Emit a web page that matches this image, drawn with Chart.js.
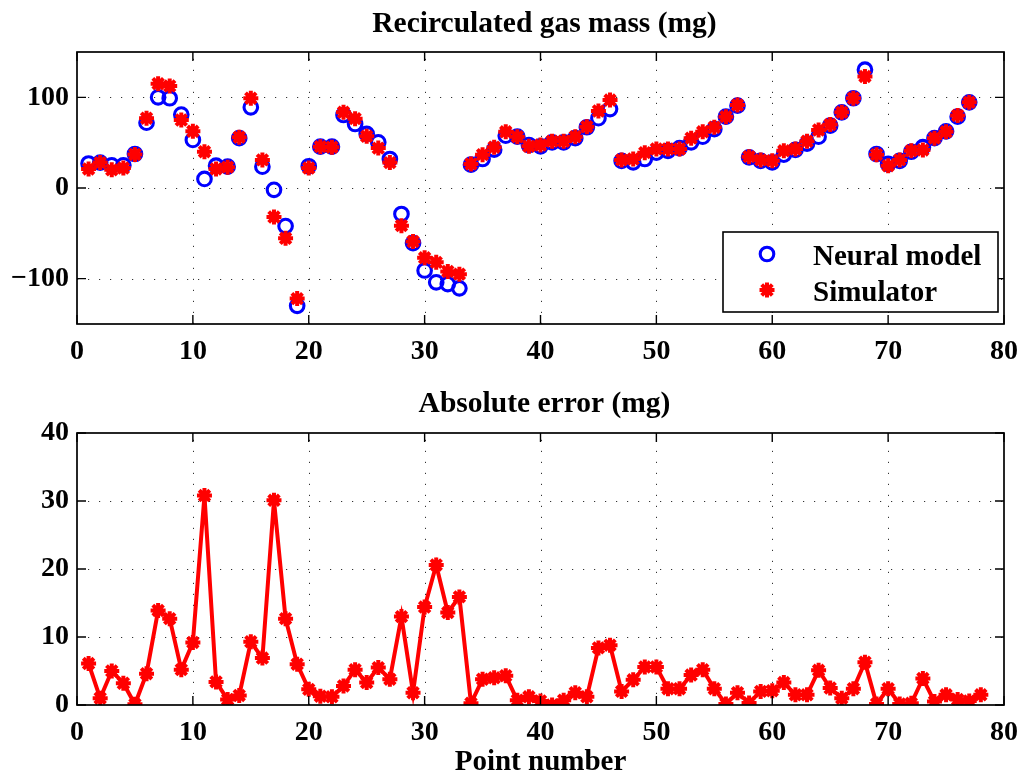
<!DOCTYPE html>
<html>
<head>
<meta charset="utf-8">
<script src="https://cdn.jsdelivr.net/npm/chart.js@4.4.1/dist/chart.umd.min.js"></script>
<style>
  html, body { margin: 0; padding: 0; background: #ffffff; }
  #wrap { position: relative; width: 1029px; height: 777px; background: #fff; }
  canvas { position: absolute; left: 0; }
  #c1 { top: 0; }
  #c2 { top: 370px; }
</style>
</head>
<body>
<div id="wrap">
  <canvas id="c1" width="1029" height="370"></canvas>
  <canvas id="c2" width="1029" height="407"></canvas>
</div>
<script>
// ---------------- data ----------------
const pointNumbers = [1,2,3,4,5,6,7,8,9,10,11,12,13,14,15,16,17,18,19,20,
  21,22,23,24,25,26,27,28,29,30,31,32,33,34,35,36,37,38,39,40,
  41,42,43,44,45,46,47,48,49,50,51,52,53,54,55,56,57,58,59,60,
  61,62,63,64,65,66,67,68,69,70,71,72,73,74,75,76,77,78];

const neuralModel = [27,28,25,25,37.5,72,100,99,81,53,
  10,24.6,23.5,55,89,23.5,-2,-42,-130,24,
  45.6,45.6,80.5,70.6,59.6,50.4,32,-28.7,-60.7,-91,
  -104,-106,-110.7,25.7,32,42.3,57.7,56.6,47.4,46,
  50.4,50.4,55,67,77,87,30,28.3,32,39,
  41,44,50.4,56.6,65,78.7,90.8,33.8,30,28.3,
  36.8,42,49,56.6,68.8,83.5,99,130.5,37.5,26.5,
  30,40,45,55,62.5,78.7,94.5];

const simulator = [21,28,20,22,37,77,115,112.5,75,62.5,
  40,21,23,56,99,31,-32,-55.5,-122,22,
  45.6,45,83.5,76.5,57,44,28,-41.5,-59,-77,
  -82,-92,-95,26.5,36.8,45,62,56.6,46,47.4,
  51.5,51.5,56.6,67.6,85,97,31,32,39,43,
  43,43,55,62,67,78.7,91.5,34.6,31,30,
  41,43,51.5,64,70,83.5,99,123,36.8,24.6,
  31,41,42,55,62,80,94.5];

const absoluteError = [6.1,1.0,5.0,3.2,0.1,4.6,13.9,12.7,5.2,9.2,
  30.8,3.4,0.8,1.4,9.3,6.9,30.1,12.7,6.0,2.3,
  1.3,1.2,2.8,5.2,3.3,5.5,3.8,13.0,1.8,14.4,
  20.6,13.6,15.9,0.25,3.8,4.0,4.3,0.7,1.2,0.6,
  0.0,0.7,1.8,1.2,8.4,8.8,2.0,3.7,5.6,5.6,
  2.4,2.4,4.4,5.2,2.4,0.15,1.8,0.3,2.0,2.1,
  3.3,1.5,1.5,5.1,2.5,1.0,2.4,6.3,0.15,2.4,
  0.15,0.25,3.9,0.5,1.5,0.8,0.6,1.5];

const xTickValues = [0,10,20,30,40,50,60,70,80];
const yTickValuesTop = [-100,0,100];
const yTickValuesBottom = [0,10,20,30,40];

const titleTop = 'Recirculated gas mass (mg)';
const titleBottom = 'Absolute error (mg)';
const xAxisLabel = 'Point number';
const seriesNames = ['Neural model', 'Simulator'];

// ---------------- styling helpers ----------------
const FONT = '"Liberation Serif", "Times New Roman", serif';
const BLUE = '#0000ff';
const RED = '#ff0000';

function toXY(values) {
  return values.map((v, i) => ({ x: pointNumbers[i], y: v }));
}
function minusFmt(v) {
  return v < 0 ? '\u2212' + Math.abs(v) : String(v);
}

// plugin: MATLAB-like dotted grid, box and inward ticks, title, legend
const matlabAxes = {
  id: 'matlabAxes',
  beforeDatasetsDraw(chart) {
    const { ctx, chartArea: a, scales } = chart;
    ctx.save();
    ctx.strokeStyle = '#333333';
    ctx.lineWidth = 1;
    ctx.setLineDash([1.2, 9.8]);
    scales.x.ticks.forEach(t => {
      const px = Math.round(scales.x.getPixelForValue(t.value)) + 0.5;
      if (px <= a.left + 1 || px >= a.right - 1) return;
      ctx.beginPath(); ctx.moveTo(px, a.bottom); ctx.lineTo(px, a.top); ctx.stroke();
    });
    scales.y.ticks.forEach(t => {
      const py = Math.round(scales.y.getPixelForValue(t.value)) + 0.5;
      if (py <= a.top + 1 || py >= a.bottom - 1) return;
      ctx.beginPath(); ctx.moveTo(a.left, py); ctx.lineTo(a.right, py); ctx.stroke();
    });
    ctx.restore();
  },
  afterDraw(chart, args, opts) {
    const { ctx, chartArea: a, scales } = chart;
    ctx.save();
    ctx.setLineDash([]);
    ctx.strokeStyle = '#000';
    ctx.lineWidth = 1.7;
    ctx.strokeRect(a.left, a.top, a.right - a.left, a.bottom - a.top);
    const tl = 9;
    ctx.lineWidth = 1.4;
    scales.x.ticks.forEach(t => {
      const px = scales.x.getPixelForValue(t.value);
      ctx.beginPath();
      ctx.moveTo(px, a.bottom); ctx.lineTo(px, a.bottom - tl);
      ctx.moveTo(px, a.top); ctx.lineTo(px, a.top + tl);
      ctx.stroke();
    });
    scales.y.ticks.forEach(t => {
      const py = scales.y.getPixelForValue(t.value);
      ctx.beginPath();
      ctx.moveTo(a.left, py); ctx.lineTo(a.left + tl, py);
      ctx.moveTo(a.right, py); ctx.lineTo(a.right - tl, py);
      ctx.stroke();
    });
    // title
    ctx.fillStyle = '#000';
    ctx.font = 'bold 29.5px ' + FONT;
    ctx.textAlign = 'center';
    ctx.textBaseline = 'alphabetic';
    ctx.fillText(opts.title, (a.left + a.right) / 2 + 4, opts.titleBaseline);
    // legend
    if (opts.legend) {
      const L = opts.legend;
      ctx.fillStyle = '#fff';
      ctx.fillRect(L.x, L.y, L.w, L.h);
      ctx.lineWidth = 1.6;
      ctx.strokeStyle = '#000';
      ctx.strokeRect(L.x, L.y, L.w, L.h);
      chart.data.datasets.forEach((ds, i) => {
        const cy = L.y + 22 + i * 36;
        const cx = L.x + 44;
        ctx.strokeStyle = ds.pointBorderColor;
        ctx.fillStyle = ds.pointBackgroundColor;
        ctx.lineWidth = ds.pointBorderWidth;
        Chart.helpers.drawPoint(ctx, {
          pointStyle: ds.pointStyle, radius: ds.pointRadius,
          borderWidth: ds.pointBorderWidth, rotation: 0
        }, cx, cy);
        ctx.fillStyle = '#000';
        ctx.font = 'bold 29px ' + FONT;
        ctx.textAlign = 'left';
        ctx.textBaseline = 'alphabetic';
        ctx.fillText(ds.label, L.x + 90, cy + 11);
      });
    }
    ctx.restore();
  }
};

const tickFont = { family: FONT, size: 28, weight: 'bold' };

function xScale(height, withTitle) {
  return {
    type: 'linear', min: 0, max: 80,
    afterBuildTicks: s => { s.ticks = xTickValues.map(v => ({ value: v })); },
    afterFit: s => { s.height = height; },
    grid: { display: false, drawTicks: false },
    border: { display: false },
    ticks: { font: tickFont, color: '#000', padding: 11, maxRotation: 0, autoSkip: false },
    title: withTitle ? { display: true, text: xAxisLabel, color: '#000',
      font: { family: FONT, size: 29, weight: 'bold' }, padding: { top: 0, bottom: -3 } } : { display: false }
  };
}
function yScale(min, max, tickVals) {
  return {
    type: 'linear', min: min, max: max,
    afterBuildTicks: s => { s.ticks = tickVals.map(v => ({ value: v })); },
    afterFit: s => { s.width = 77; },
    grid: { display: false, drawTicks: false },
    border: { display: false },
    ticks: { font: tickFont, color: '#000', padding: 8, callback: v => minusFmt(v) }
  };
}

// ---------------- top chart ----------------
new Chart(document.getElementById('c1'), {
  type: 'scatter',
  data: {
    datasets: [
      { label: seriesNames[0], data: toXY(neuralModel), showLine: false,
        pointStyle: 'circle', pointRadius: 6.8, pointBorderWidth: 3.1,
        pointBorderColor: BLUE, pointBackgroundColor: 'rgba(0,0,0,0)',
        borderColor: BLUE, backgroundColor: 'rgba(0,0,0,0)', order: 1 },
      { label: seriesNames[1], data: toXY(simulator), showLine: false,
        pointStyle: 'star', pointRadius: 7.5, pointBorderWidth: 4,
        pointBorderColor: RED, pointBackgroundColor: RED,
        borderColor: RED, backgroundColor: RED, order: 0 }
    ]
  },
  options: {
    responsive: false, animation: false, devicePixelRatio: 1,
    layout: { padding: { left: 0, top: 52, right: 20, bottom: 0 } },
    scales: { x: xScale(46, false), y: yScale(-150, 150, yTickValuesTop) },
    plugins: {
      legend: { display: false }, tooltip: { enabled: false },
      matlabAxes: { title: titleTop, titleBaseline: 32,
        legend: { x: 723, y: 232, w: 275, h: 80 } }
    }
  },
  plugins: [matlabAxes]
});

// ---------------- bottom chart ----------------
new Chart(document.getElementById('c2'), {
  type: 'line',
  data: {
    datasets: [
      { label: 'Absolute error', data: toXY(absoluteError),
        borderColor: RED, borderWidth: 4, backgroundColor: RED,
        pointStyle: 'star', pointRadius: 7.5, pointBorderWidth: 4,
        pointBorderColor: RED, pointBackgroundColor: RED, tension: 0, fill: false }
    ]
  },
  options: {
    responsive: false, animation: false, devicePixelRatio: 1,
    layout: { padding: { left: 0, top: 63, right: 20, bottom: 0 } },
    scales: { x: xScale(72, true), y: yScale(0, 40, yTickValuesBottom) },
    plugins: {
      legend: { display: false }, tooltip: { enabled: false },
      matlabAxes: { title: titleBottom, titleBaseline: 42 }
    }
  },
  plugins: [matlabAxes]
});
</script>
</body>
</html>
